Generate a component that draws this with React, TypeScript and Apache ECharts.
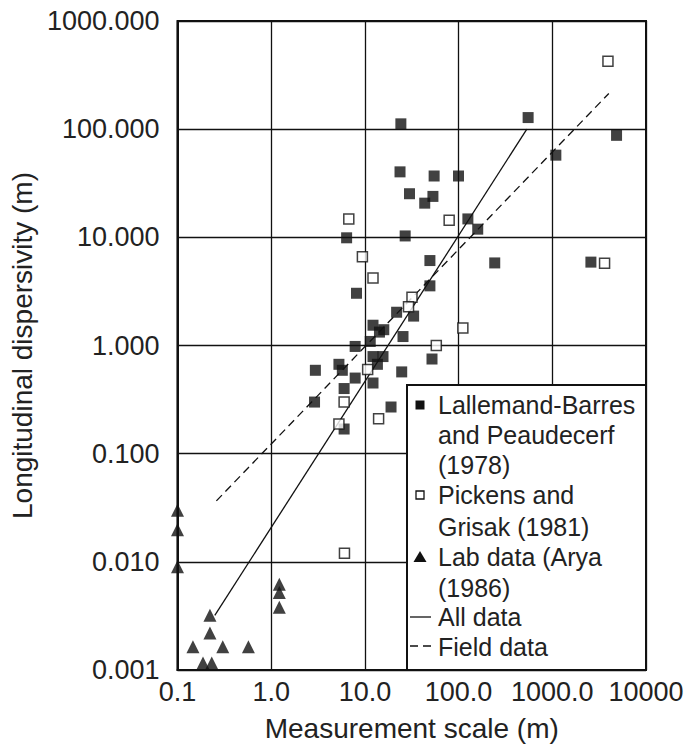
import React, { useEffect, useRef } from "react";
import * as echarts from "echarts";

// Lallemand-Barres and Peaudecerf (1978) — filled squares [scale m, dispersivity m]
const lallemandData: [number, number][] = [
  [24.2, 112], [552, 128], [4850, 87.7], [1091, 57.5], [23.7, 40.3],
  [54.8, 36.9], [99.8, 36.9], [29.9, 25.3], [53.2, 23.9], [43.5, 20.7],
  [125.6, 14.8], [160, 11.9], [26.9, 10.3], [6.38, 9.9], [49.4, 6.1],
  [243, 5.8], [2582, 5.9], [49.4, 3.56], [8.13, 3.04], [21.8, 2.03],
  [33.1, 1.87], [12.2, 1.54], [15.9, 1.4], [14.3, 1.33], [25.5, 1.21],
  [11.4, 1.09], [7.87, 0.98], [12.2, 0.79], [15.6, 0.79], [13.6, 0.67],
  [52.0, 0.75], [5.28, 0.67], [5.74, 0.59], [2.96, 0.59], [24.7, 0.57],
  [7.87, 0.5], [12.2, 0.45], [6.0, 0.4], [2.9, 0.3], [19.0, 0.27],
  [6.0, 0.169],
];

// Pickens and Grisak (1981) — open squares
const pickensData: [number, number][] = [
  [3926, 425], [6.73, 14.8], [79.3, 14.4], [9.4, 6.6], [12.2, 4.2],
  [31.8, 2.8], [29.2, 2.28], [111, 1.45], [57.8, 1.0], [10.7, 0.6],
  [6.0, 0.3], [5.28, 0.188], [14.0, 0.21], [3613, 5.76], [6.05, 0.012],
];

// Lab data (Arya 1986) — triangles
const labData: [number, number][] = [
  [0.1, 0.03], [0.1, 0.0198], [0.1, 0.009], [1.22, 0.0062], [1.22, 0.0052],
  [1.22, 0.0038], [0.222, 0.0032], [0.222, 0.0022], [0.146, 0.00164],
  [0.304, 0.00164], [0.571, 0.00164], [0.187, 0.00116], [0.232, 0.00116],
];

// Regression lines
const allDataLine: [number, number][] = [[0.25, 0.0032], [535, 100]];
const fieldDataLine: [number, number][] = [[0.26, 0.0366], [4010, 214]];

const xTickLabels = ["0.1", "1.0", "10.0", "100.0", "1000.0", "10000"];
const yTickLabels = ["0.001", "0.010", "0.100", "1.000", "10.000", "100.000", "1000.000"];

const legendLines = [
  "Lallemand-Barres",
  "and Peaudecerf",
  "(1978)",
  "Pickens and",
  "Grisak (1981)",
  "Lab data (Arya",
  "(1986)",
  "All data",
  "Field data",
];

const FONT = '"Liberation Sans", Arial, Helvetica, sans-serif';
const TXT = "#222";

export default function App() {
  const ref = useRef<HTMLDivElement>(null);
  useEffect(() => {
    if (!ref.current) return;
    const chart = echarts.init(ref.current, null, { renderer: "svg" });

    const legendTop = 385;
    const lineYs = [405, 435, 465, 495, 527, 557, 588, 617, 647];
    const graphics: any[] = [
      {
        type: "rect",
        shape: { x: 407, y: legendTop, width: 239, height: 285 },
        style: { fill: "#fff", stroke: "#111", lineWidth: 2 },
        z: 100,
      },
      ...legendLines.map((t, i) => ({
        type: "text",
        x: 438,
        y: lineYs[i],
        style: {
          text: t,
          fill: TXT,
          fontSize: 25,
          fontFamily: FONT,
          verticalAlign: "middle",
          align: "left",
        },
        z: 101,
      })),
      {
        type: "rect",
        shape: { x: 415.5, y: 400.5, width: 9, height: 9 },
        style: { fill: "#111" },
        z: 101,
      },
      {
        type: "rect",
        shape: { x: 416, y: 491, width: 8, height: 8 },
        style: { fill: "#fff", stroke: "#111", lineWidth: 1.3 },
        z: 101,
      },
      {
        type: "polygon",
        shape: { points: [[420, 551], [413.5, 562], [426.5, 562]] },
        style: { fill: "#111" },
        z: 101,
      },
      {
        type: "line",
        shape: { x1: 410, y1: 617, x2: 431, y2: 617 },
        style: { stroke: "#111", lineWidth: 1.3 },
        z: 101,
      },
      {
        type: "line",
        shape: { x1: 410, y1: 646, x2: 431, y2: 646 },
        style: { stroke: "#111", lineWidth: 1.3, lineDash: [8, 5] },
        z: 101,
      },
    ];

    chart.setOption({
      animation: false,
      backgroundColor: "#fff",
      grid: {
        left: 166,
        right: 43,
        top: 21,
        bottom: 79,
        show: true,
        borderColor: "#111",
        borderWidth: 2,
        containLabel: false,
      },
      xAxis: {
        type: "log",
        logBase: 10,
        min: 0.1,
        max: 10000,
        name: "Measurement scale (m)",
        nameLocation: "middle",
        nameGap: 44,
        nameTextStyle: { fontSize: 28, color: TXT, fontFamily: FONT },
        axisLine: { show: true, lineStyle: { color: "#111", width: 2 } },
        axisTick: { show: false },
        minorTick: { show: false },
        splitLine: { show: true, lineStyle: { color: "#111", width: 1.3 } },
        axisLabel: {
          fontSize: 27,
          color: TXT,
          fontFamily: FONT,
          margin: 8,
          formatter: (v: number) => xTickLabels[Math.round(Math.log10(v)) + 1] ?? "",
        },
      },
      yAxis: {
        type: "log",
        logBase: 10,
        min: 0.001,
        max: 1000,
        name: "Longitudinal dispersivity (m)",
        nameLocation: "middle",
        nameRotate: 90,
        nameGap: 130,
        nameTextStyle: { fontSize: 28, color: TXT, fontFamily: FONT },
        axisLine: { show: true, lineStyle: { color: "#111", width: 2 } },
        axisTick: { show: false },
        minorTick: { show: false },
        splitLine: { show: true, lineStyle: { color: "#111", width: 1.3 } },
        axisLabel: {
          fontSize: 27,
          color: TXT,
          fontFamily: FONT,
          margin: 18,
          formatter: (v: number) => yTickLabels[Math.round(Math.log10(v)) + 3] ?? "",
        },
      },
      series: [
        {
          name: "All data",
          type: "line",
          data: allDataLine,
          symbol: "none",
          lineStyle: { color: "#111", width: 1.3 },
          z: 3,
        },
        {
          name: "Field data",
          type: "line",
          data: fieldDataLine,
          symbol: "none",
          lineStyle: { color: "#111", width: 1.3, type: [8, 5] },
          z: 3,
        },
        {
          name: "Lallemand-Barres and Peaudecerf (1978)",
          type: "scatter",
          data: lallemandData,
          symbol: "rect",
          symbolSize: 11,
          itemStyle: { color: "#111" },
          z: 4,
        },
        {
          name: "Pickens and Grisak (1981)",
          type: "scatter",
          data: pickensData,
          symbol: "rect",
          symbolSize: 10,
          itemStyle: { color: "#fff", borderColor: "#111", borderWidth: 1.5 },
          z: 5,
        },
        {
          name: "Lab data (Arya 1986)",
          type: "scatter",
          data: labData,
          symbol: "triangle",
          symbolSize: 13,
          clip: false,
          itemStyle: { color: "#111" },
          z: 4,
        },
      ],
      graphic: graphics,
    });
    return () => chart.dispose();
  }, []);
  return (
    <div
      ref={ref}
      style={{ position: "fixed", left: 0, top: 0, width: 689, height: 749 }}
    />
  );
}
